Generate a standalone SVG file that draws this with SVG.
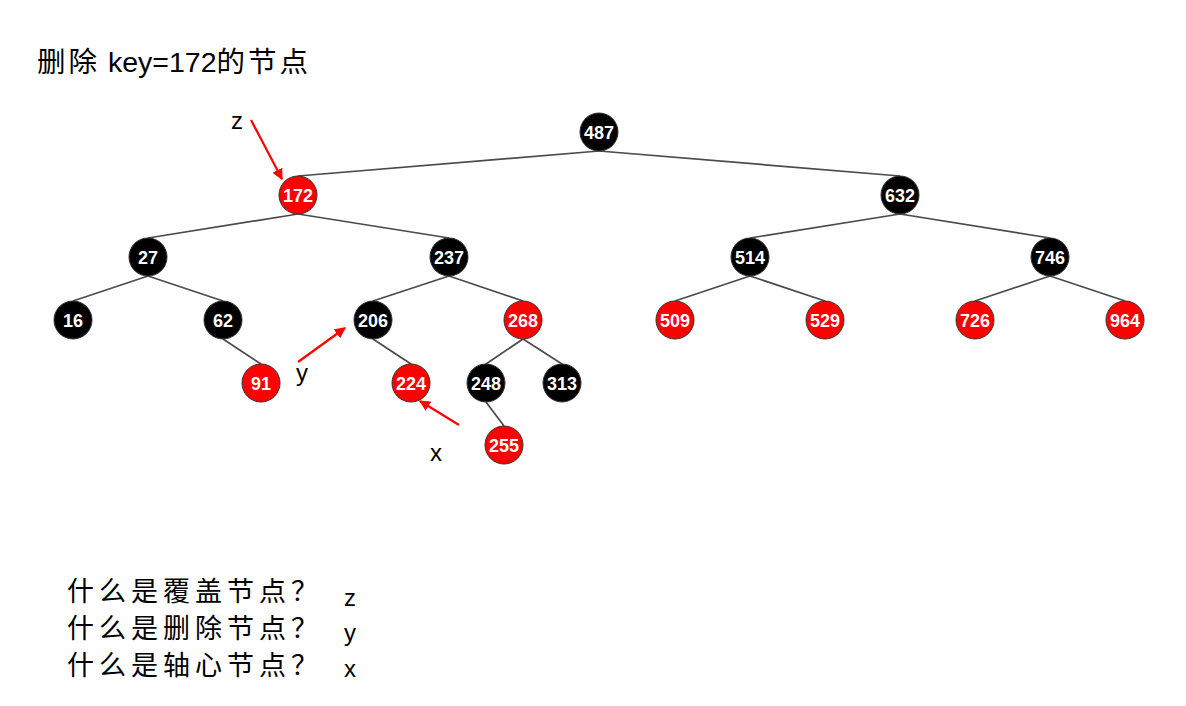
<svg xmlns="http://www.w3.org/2000/svg" width="1186" height="706" viewBox="0 0 1186 706">
<defs>
<style>
.b circle{fill:#000;stroke:#333;stroke-width:1}
.r circle{fill:#f00;stroke:#333;stroke-width:1}
.n text{fill:#fff;font-family:"Liberation Sans",Arial,sans-serif;font-weight:bold;font-size:18px;text-anchor:middle}
.e line{stroke:#4a4a4a;stroke-width:1.7}
.ar line{stroke:#f00;stroke-width:2.2}
.lbl{font-family:"Liberation Sans",Arial,sans-serif;font-size:24px;fill:#000}
.cjk{font-family:"Liberation Sans","Noto Sans CJK SC",sans-serif;fill:#000}
</style>
<marker id="ah" viewBox="0 0 10 10" refX="9" refY="5" markerWidth="5" markerHeight="5" orient="auto" markerUnits="strokeWidth">
<path d="M0,0 L10,5 L0,10 z" fill="#f00"/>
</marker>
</defs>
<rect width="1186" height="706" fill="#fff"/>
<text id="title" class="cjk" x="37" y="72" font-size="28.5"><tspan letter-spacing="3">删除</tspan> key=172<tspan letter-spacing="3">的节点</tspan></text>
<g id="connectors" class="e">
<line x1="599" y1="151" x2="298" y2="176"/>
<line x1="599" y1="151" x2="900" y2="176"/>
<line x1="298" y1="214" x2="148" y2="238"/>
<line x1="298" y1="214" x2="449" y2="238"/>
<line x1="900" y1="214" x2="750" y2="238"/>
<line x1="900" y1="214" x2="1050" y2="238"/>
<line x1="148" y1="276" x2="73" y2="301"/>
<line x1="148" y1="276" x2="223" y2="301"/>
<line x1="449" y1="276" x2="373" y2="301"/>
<line x1="449" y1="276" x2="523" y2="301"/>
<line x1="750" y1="276" x2="675" y2="301"/>
<line x1="750" y1="276" x2="825" y2="301"/>
<line x1="1050" y1="276" x2="975" y2="301"/>
<line x1="1050" y1="276" x2="1125" y2="301"/>
<line x1="223" y1="339" x2="261" y2="364"/>
<line x1="373" y1="339" x2="411" y2="364"/>
<line x1="523" y1="339" x2="486" y2="364"/>
<line x1="523" y1="339" x2="562" y2="364"/>
<line x1="486" y1="402" x2="504" y2="426"/>
</g>
<g id="n487" class="n b"><circle cx="599" cy="132" r="19"/><text x="599" y="138.5">487</text></g>
<g id="n172" class="n r"><circle cx="298" cy="195" r="19"/><text x="298" y="201.5">172</text></g>
<g id="n632" class="n b"><circle cx="900" cy="195" r="19"/><text x="900" y="201.5">632</text></g>
<g id="n27" class="n b"><circle cx="148" cy="257" r="19"/><text x="148" y="263.5">27</text></g>
<g id="n237" class="n b"><circle cx="449" cy="257" r="19"/><text x="449" y="263.5">237</text></g>
<g id="n514" class="n b"><circle cx="750" cy="257" r="19"/><text x="750" y="263.5">514</text></g>
<g id="n746" class="n b"><circle cx="1050" cy="257" r="19"/><text x="1050" y="263.5">746</text></g>
<g id="n16" class="n b"><circle cx="73" cy="320" r="19"/><text x="73" y="326.5">16</text></g>
<g id="n62" class="n b"><circle cx="223" cy="320" r="19"/><text x="223" y="326.5">62</text></g>
<g id="n206" class="n b"><circle cx="373" cy="320" r="19"/><text x="373" y="326.5">206</text></g>
<g id="n268" class="n r"><circle cx="523" cy="320" r="19"/><text x="523" y="326.5">268</text></g>
<g id="n509" class="n r"><circle cx="675" cy="320" r="19"/><text x="675" y="326.5">509</text></g>
<g id="n529" class="n r"><circle cx="825" cy="320" r="19"/><text x="825" y="326.5">529</text></g>
<g id="n726" class="n r"><circle cx="975" cy="320" r="19"/><text x="975" y="326.5">726</text></g>
<g id="n964" class="n r"><circle cx="1125" cy="320" r="19"/><text x="1125" y="326.5">964</text></g>
<g id="n91" class="n r"><circle cx="261" cy="383" r="19"/><text x="261" y="389.5">91</text></g>
<g id="n224" class="n r"><circle cx="411" cy="383" r="19"/><text x="411" y="389.5">224</text></g>
<g id="n248" class="n b"><circle cx="486" cy="383" r="19"/><text x="486" y="389.5">248</text></g>
<g id="n313" class="n b"><circle cx="562" cy="383" r="19"/><text x="562" y="389.5">313</text></g>
<g id="n255" class="n r"><circle cx="504" cy="445" r="19"/><text x="504" y="451.5">255</text></g>
<g id="pointers" class="ar">
<line x1="251" y1="120" x2="282" y2="179" marker-end="url(#ah)"/>
<line x1="298" y1="362" x2="345" y2="328" marker-end="url(#ah)"/>
<line x1="459" y1="425" x2="420" y2="401" marker-end="url(#ah)"/>
</g>
<text class="lbl" x="231" y="129">z</text>
<text class="lbl" x="296" y="381">y</text>
<text class="lbl" x="430" y="461">x</text>
<g id="questions" class="cjk" font-size="27" letter-spacing="5">
<text x="67" y="601">什么是覆盖节点？</text>
<text x="67" y="638">什么是删除节点？</text>
<text x="67" y="675">什么是轴心节点？</text>
</g>
<text class="lbl" x="344" y="606">z</text>
<text class="lbl" x="344" y="641">y</text>
<text class="lbl" x="344" y="677">x</text>
</svg>
